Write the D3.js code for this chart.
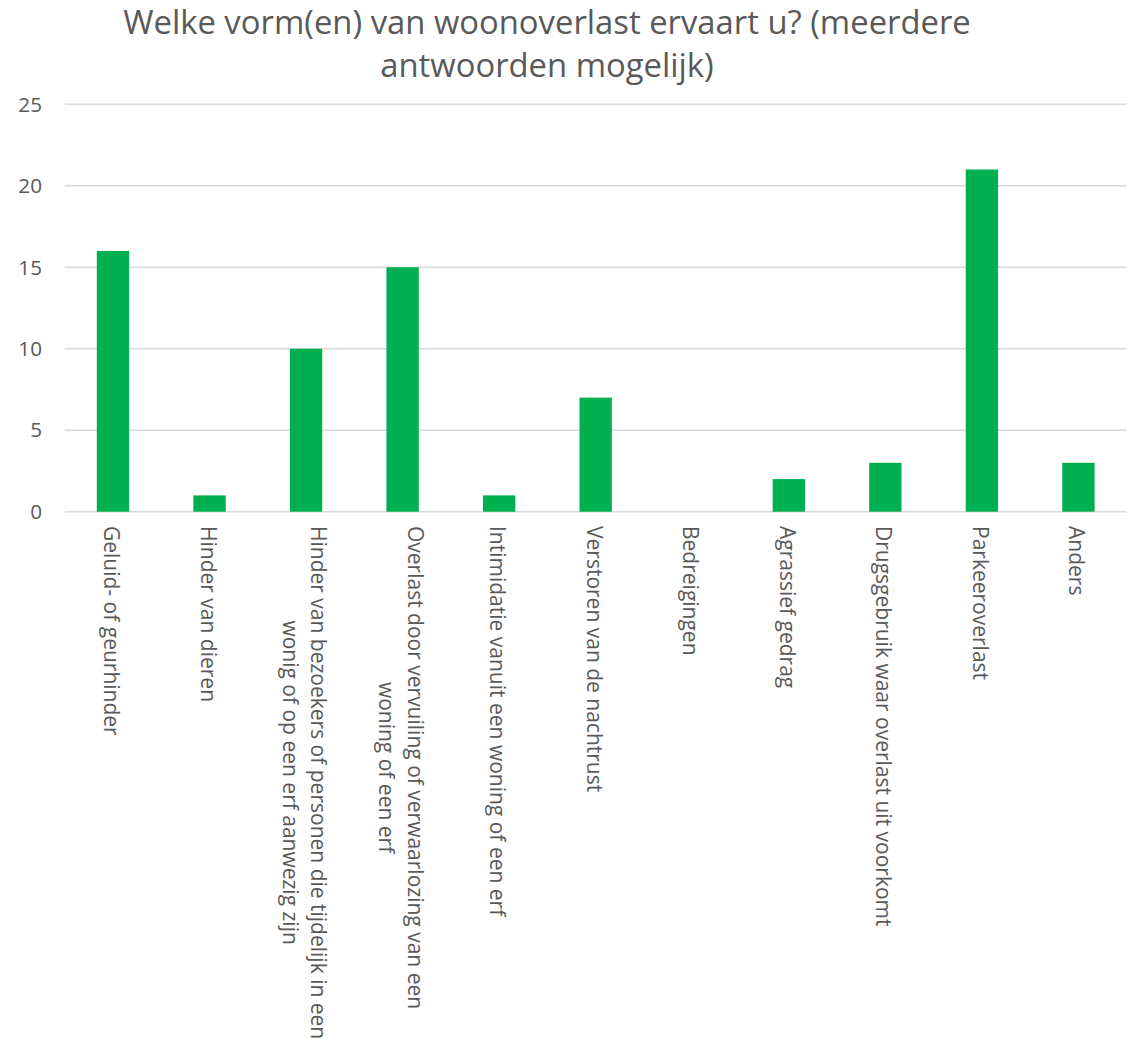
<!DOCTYPE html>
<html>
<head>
<meta charset="utf-8">
<script src="https://cdn.jsdelivr.net/npm/d3@7"></script>
<style>
  html, body { margin: 0; padding: 0; background: #fff; }
  svg { display: block; }
  text { font-family: "Open Sans", sans-serif; fill: #595959; }
</style>
</head>
<body>
<svg id="chart" width="1140" height="1038"></svg>
<script>
const titleLines = ["Welke vorm(en) van woonoverlast ervaart u? (meerdere", "antwoorden mogelijk)"];
const categories = [
  "Geluid- of geurhinder",
  "Hinder van dieren",
  "Hinder van bezoekers of personen die tijdelijk in een\nwonig of op een erf aanwezig zijn",
  "Overlast door vervuiling of verwaarlozing van een\nwoning of een erf",
  "Intimidatie vanuit een woning of een erf",
  "Verstoren van de nachtrust",
  "Bedreigingen",
  "Agrassief gedrag",
  "Drugsgebruik waar overlast uit voorkomt",
  "Parkeeroverlast",
  "Anders"
];
const values = [16, 1, 10, 15, 1, 7, 0, 2, 3, 21, 3];
const yTicks = [0, 5, 10, 15, 20, 25];

const svg = d3.select("#chart");
const W = 1140, H = 1038;
svg.append("rect").attr("width", W).attr("height", H).attr("fill", "#fff");

const x = d3.scaleBand().domain(categories).range([64.7, 1126.7]).paddingInner(0.665).paddingOuter(0.3325);
const y = d3.scaleLinear().domain([0, 25]).range([511.7, 104.3]);

// title
const title = svg.append("text").attr("text-anchor", "middle").style("font-size", "32.8px");
titleLines.forEach((t, i) => {
  title.append("tspan").attr("x", 547).attr("y", 34 + i * 43).text(t);
});

// gridlines
svg.append("g").selectAll("line").data(yTicks).join("line")
  .attr("x1", 64.7).attr("x2", 1126.7)
  .attr("y1", d => y(d)).attr("y2", d => y(d))
  .attr("stroke", "#d9d9d9").attr("stroke-width", 1.5);

// y tick labels
svg.append("g").selectAll("text").data(yTicks).join("text")
  .attr("x", 42).attr("y", d => y(d)).attr("dy", "0.35em")
  .attr("text-anchor", "end").style("font-size", "20.7px")
  .text(d => d);

// bars
svg.append("g").selectAll("rect").data(values).join("rect")
  .attr("x", (d, i) => x(categories[i]))
  .attr("width", x.bandwidth())
  .attr("y", d => y(d))
  .attr("height", d => y(0) - y(d))
  .attr("fill", "#00B050");

// category labels (rotated 90deg)
const lh = 28.5;
const lg = svg.append("g").selectAll("g").data(categories).join("g")
  .attr("transform", d => `translate(${x(d) + x.bandwidth() / 2},526) rotate(90)`);
lg.each(function (d) {
  const g = d3.select(this);
  const lines = d.split("\n");
  const n = lines.length;
  const t = g.append("text").style("font-size", "21px");
  const spans = lines.map((ln, i) => t.append("tspan").attr("y", 9 - (n - 1) * lh / 2 + i * lh).text(ln));
  const maxLen = d3.max(spans, s => s.node().getComputedTextLength());
  spans.forEach(s => s.attr("x", maxLen / 2).attr("text-anchor", "middle"));
});
</script>
</body>
</html>
